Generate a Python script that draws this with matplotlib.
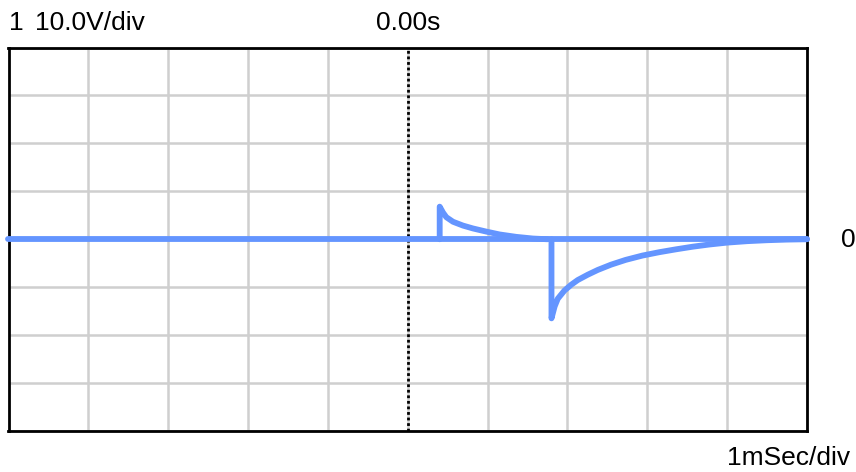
import matplotlib
matplotlib.use("Agg")
import matplotlib.pyplot as plt

plt.rcParams['font.family'] = ['Liberation Sans', 'DejaVu Sans']

# Baseline (0 V) across the whole screen
base_t = [-5.0, 5.0]
base_v = [0.0, 0.0]

# Positive pulse (time in ms, voltage in V)
pulse1_t = [0.40, 0.40, 0.442, 0.483, 0.567, 0.692, 0.817, 0.983, 1.15, 1.358, 1.567, 1.75]
pulse1_v = [0.0, 6.8, 5.55, 4.6, 3.65, 2.85, 2.25, 1.6, 1.0, 0.5, 0.15, 0.0]

# Negative pulse (time in ms, voltage in V)
pulse2_t = [1.80, 1.80, 1.84, 1.879, 1.9625, 2.046, 2.13, 2.254, 2.38, 2.546, 2.73, 2.94,
            3.15, 3.36, 3.57, 3.775, 4.0, 4.25, 4.5, 4.75, 5.0]
pulse2_v = [0.0, -16.5, -14.0, -12.4, -10.7, -9.5, -8.5, -7.4, -6.4, -5.3, -4.3, -3.4,
            -2.7, -2.1, -1.55, -1.1, -0.7, -0.4, -0.2, -0.07, 0.0]

x_range = (-5, 5)      # ms, 1 ms/div
y_range = (-40, 40)    # V, 10 V/div
x_grid = list(range(-5, 6))
y_grid = list(range(-40, 41, 10))

W, H = 856, 472
fig = plt.figure(figsize=(W / 100, H / 100), dpi=100)
ax = fig.add_axes([8.5 / W, (H - 431) / H, (807 - 8.5) / W, (431 - 47.5) / H])

ax.set_xlim(*x_range)
ax.set_ylim(*y_range)
ax.set_xticks(x_grid)
ax.set_yticks(y_grid)
ax.tick_params(length=0, labelbottom=False, labelleft=False)
ax.grid(True, color='#cfcfcf', linewidth=1.8)
ax.set_axisbelow(True)
for s in ax.spines.values():
    s.set_linewidth(2.0)
    s.set_color('black')

ax.axvline(0, color='black', linewidth=2.0, linestyle=(0, (1, 1)), zorder=4)

trace_kw = dict(color='#6495FF', linewidth=4.2, solid_capstyle='round',
                solid_joinstyle='round', zorder=5, clip_on=False)
ax.plot(base_t, base_v, **trace_kw)
ax.plot(pulse1_t, pulse1_v, **trace_kw)
ax.plot(pulse2_t, pulse2_v, **trace_kw)

fs = 19
fig.text(9 / W, 1 - 23 / H, '1', fontsize=fs, va='center', ha='left')
fig.text(35 / W, 1 - 23 / H, '10.0V/div', fontsize=fs, va='center', ha='left')
fig.text(408 / W, 1 - 23 / H, '0.00s', fontsize=fs, va='center', ha='center')
fig.text(848 / W, 1 - 240 / H, '0', fontsize=fs, va='center', ha='center')
fig.text(850 / W, 1 - 458 / H, '1mSec/div', fontsize=fs, va='center', ha='right')

fig.savefig('out.png', dpi=100)
